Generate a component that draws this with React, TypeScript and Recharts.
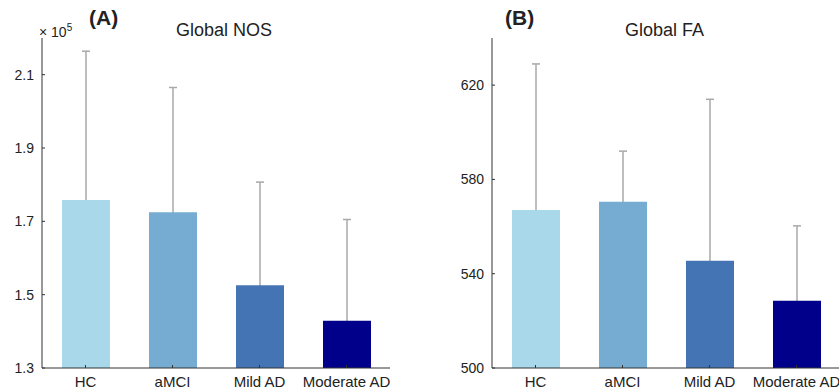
import React from 'react';
import { BarChart, Bar, XAxis, YAxis, ErrorBar, Cell } from 'recharts';

// groups and colours
const groups = ['HC', 'aMCI', 'Mild AD', 'Moderate AD'];
const groupColors = ['#a8d8ea', '#76acd1', '#4474b3', '#00008b'];

// Global NOS (raw units, axis shown in x 10^5)
const nosMeans = [175800, 172500, 152600, 142900];
const nosUpper = [216400, 206500, 180700, 170500];
const nosTicks = [130000, 150000, 170000, 190000, 210000];

// Global FA
const faMeans = [567, 570.5, 545.5, 528.5];
const faUpper = [629, 592, 614, 560.3];
const faTicks = [500, 540, 580, 620];

const font = '"Liberation Sans", Arial, sans-serif';
const textColor = '#222';
const axisColor = '#333';

// SD whiskers; the lower half stays hidden behind the bar, so keep it inside the bar
const buildRows = (means: number[], upper: number[], floor: number) =>
  groups.map((g, i) => {
    const e = upper[i] - means[i];
    return {
      name: g,
      mean: means[i],
      err: [Math.min(e, (means[i] - floor) / 2), e],
    };
  });

interface PanelProps {
  means: number[];
  upper: number[];
  domain: [number, number];
  ticks: number[];
  yWidth: number;
  width: number;
  formatTick?: (v: number) => string;
}

function Panel({ means, upper, domain, ticks, yWidth, width, formatTick }: PanelProps) {
  const rows = buildRows(means, upper, domain[0]);
  return (
    <BarChart
      width={width}
      height={392}
      data={rows}
      margin={{ top: 38, right: 0, left: 0, bottom: 0 }}
      barCategoryGap={0}
    >
      <XAxis
        dataKey="name"
        height={24}
        stroke={axisColor}
        tickSize={-3}
        tickMargin={11}
        tick={{ fill: textColor, fontSize: 15, fontFamily: font }}
        interval={0}
      />
      <YAxis
        type="number"
        domain={domain}
        ticks={ticks}
        width={yWidth}
        stroke={axisColor}
        tickSize={-3}
        tickMargin={11}
        allowDataOverflow
        tickFormatter={formatTick}
        tick={{ fill: textColor, fontSize: 14, fontFamily: font }}
      />
      <Bar dataKey="mean" barSize={48} isAnimationActive={false}>
        {rows.map((r, i) => (
          <Cell key={r.name} fill={groupColors[i]} />
        ))}
        <ErrorBar
          dataKey="err"
          direction="y"
          width={4}
          stroke="#a8a8a8"
          strokeWidth={1.5}
          zIndex={100}
        />
      </Bar>
    </BarChart>
  );
}

export default function App() {
  return (
    <div
      style={{
        position: 'absolute',
        left: 0,
        top: 0,
        width: 839,
        height: 392,
        background: '#fff',
        overflow: 'hidden',
        fontFamily: font,
        color: textColor,
      }}
    >
      <div style={{ position: 'absolute', left: 0, top: 0, width: 420, height: 392 }}>
        <Panel
          means={nosMeans}
          upper={nosUpper}
          domain={[130000, 220000]}
          ticks={nosTicks}
          yWidth={42}
          width={390}
          formatTick={(v) => (v / 100000).toFixed(1)}
        />
      </div>
      <div style={{ position: 'absolute', left: 420, top: 0, width: 419, height: 392, overflow: 'hidden' }}>
        <Panel
          means={faMeans}
          upper={faUpper}
          domain={[500, 640]}
          ticks={faTicks}
          yWidth={72}
          width={420}
        />
      </div>

      {/* panel labels and titles */}
      <div style={{ position: 'absolute', left: 39, top: 22, fontSize: 14 }}>
        × 10<sup style={{ fontSize: 10 }}>5</sup>
      </div>
      <div style={{ position: 'absolute', left: 89, top: 6, fontSize: 21, fontWeight: 'bold' }}>(A)</div>
      <div style={{ position: 'absolute', left: 176, top: 20, fontSize: 18 }}>Global NOS</div>
      <div style={{ position: 'absolute', left: 505, top: 6, fontSize: 21, fontWeight: 'bold' }}>(B)</div>
      <div style={{ position: 'absolute', left: 625, top: 20, fontSize: 18 }}>Global FA</div>
    </div>
  );
}
